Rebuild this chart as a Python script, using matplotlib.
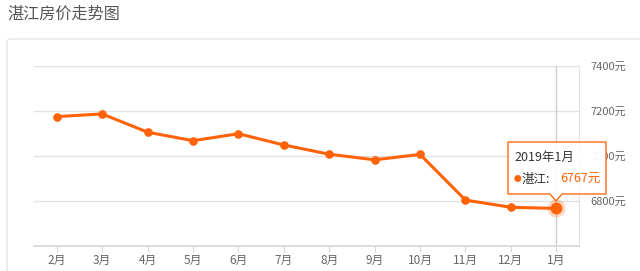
import matplotlib
matplotlib.use("Agg")
import matplotlib.pyplot as plt
from matplotlib.patches import FancyBboxPatch, Polygon

plt.rcParams['font.family'] = ['Noto Sans CJK SC', 'DejaVu Sans']

title = "湛江房价走势图"
months = ["2月", "3月", "4月", "5月", "6月", "7月", "8月", "9月", "10月", "11月", "12月", "1月"]
prices = [7175, 7187, 7106, 7068, 7099, 7049, 7008, 6983, 7007, 6804, 6772, 6767]
yticks = [6800, 7000, 7200, 7400]
tooltip_title = "2019年1月"
series_name = "湛江"

W, H = 640, 271
fig = plt.figure(figsize=(W / 100, H / 100), dpi=100)

def fx(px):
    return px / W

def fy(py):
    return 1 - py / H

ORANGE = '#FF6207'
GRID = '#e2e2e2'
TXT = '#666666'

# card border
card = FancyBboxPatch((fx(7), fy(290)), fx(700), fy(39) - fy(290),
                      boxstyle="round,pad=0,rounding_size=0.008",
                      transform=fig.transFigure, fill=False, ec='#e6e6e6', lw=1.0)
fig.patches.append(card)
fig.text(fx(7), fy(14), title, fontsize=11.6, color='#555555', ha='left', va='center')

ax = fig.add_axes([fx(34), fy(246), fx(579) - fx(34), fy(66) - fy(246)])
x = list(range(len(months)))
ax.set_xlim(-0.5, len(months) - 0.5)
ax.set_ylim(6600, 7400)

for s in ['left', 'top']:
    ax.spines[s].set_visible(False)
ax.spines['right'].set_color(GRID)
ax.spines['bottom'].set_color('#d6d6d6')
ax.spines['bottom'].set_linewidth(1.2)

ax.yaxis.tick_right()
ax.set_yticks(yticks + [6600])
ax.set_yticklabels([f"{v}元" for v in yticks] + [""], fontsize=8, color=TXT)
ax.tick_params(axis='y', length=0, pad=8)
ax.grid(axis='y', color=GRID, lw=1)
ax.set_xticks(x)
ax.set_xticklabels(months, fontsize=8.5, color=TXT)
ax.tick_params(axis='x', length=4, color='#d6d6d6', pad=2)
ax.set_axisbelow(True)

# axis pointer line
ax.axvline(x[-1], color='#cccccc', lw=1, zorder=1)

ax.plot(x, prices, color=ORANGE, lw=2.2, marker='o', ms=5.2, zorder=3, clip_on=False)
ax.plot([x[-1]], [prices[-1]], 'o', ms=13, color=ORANGE, alpha=0.25, mec='none', zorder=2, clip_on=False)
ax.plot([x[-1]], [prices[-1]], 'o', ms=8.5, color=ORANGE, mec='none', zorder=4, clip_on=False)

# tooltip
bx0, bx1, by0, by1 = 508, 606, 142, 194
tipx, tipy = 556, 201
pts = [(bx0, by0), (bx1, by0), (bx1, by1), (tipx + 6, by1), (tipx, tipy), (tipx - 6, by1), (bx0, by1)]
poly = Polygon([(fx(a), fy(b)) for a, b in pts], closed=True, transform=fig.transFigure,
               fc='white', ec=ORANGE, lw=1.0, alpha=0.95, zorder=10)
fig.patches.append(poly)
fig.text(fx(514), fy(157), tooltip_title, fontsize=9, color='#333333', ha='left', va='center', zorder=11)
fig.text(fx(514), fy(179), "●", fontsize=5.5, color=ORANGE, ha='left', va='center', zorder=11)
fig.text(fx(522), fy(179), f"{series_name}:", fontsize=9, color='#333333', ha='left', va='center', zorder=11)
fig.text(fx(560), fy(179), f"{prices[-1]}元", fontsize=9, color=ORANGE, ha='left', va='center', zorder=11)

fig.savefig("out.png", dpi=100)
